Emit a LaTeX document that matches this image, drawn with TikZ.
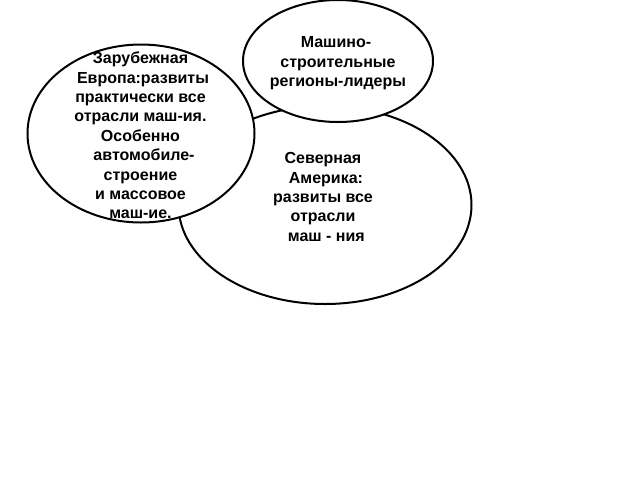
\documentclass[tikz,border=0pt]{standalone}
\usepackage{fontspec}
\setmainfont{Liberation Sans}
\usetikzlibrary{shapes.geometric}
\begin{document}
\begin{tikzpicture}[x=0.75pt,y=-0.75pt,
  bubble/.style={draw=black,line width=1.5pt,fill=white,ellipse,inner sep=0pt},
  label/.style={align=center,inner sep=0pt,font=\bfseries\fontsize{12}{14.55}\selectfont}]
\useasboundingbox[fill=white] (0,0) rectangle (640,480);
\node[bubble,minimum width=219.75pt,minimum height=148.5pt] (na) at (325,205) {};
\node[bubble,minimum width=142.5pt,minimum height=91.5pt] (top) at (338,61) {};
\node[bubble,minimum width=170.25pt,minimum height=133.5pt] (eu) at (141,133.5) {};
\node[label] (ttop) at (338,63.5) {Машино-\hspace*{3pt}\\строительные\\регионы-лидеры};
\node[label] (teu) at (140.5,135.5) {Зарубежная\\\hspace*{3.75pt}Европа:развиты\\практически все\\отрасли маш-ия.\\Особенно\\\hspace*{5.25pt}автомобиле-\\строение\hspace*{3.75pt}\\и массовое\\маш-ие.};
\node[label] (tna) at (323,197) {Северная\\\hspace*{4.5pt}Америка:\\развиты все\\отрасли\\\hspace*{5pt}маш - ния};
\end{tikzpicture}
\end{document}
